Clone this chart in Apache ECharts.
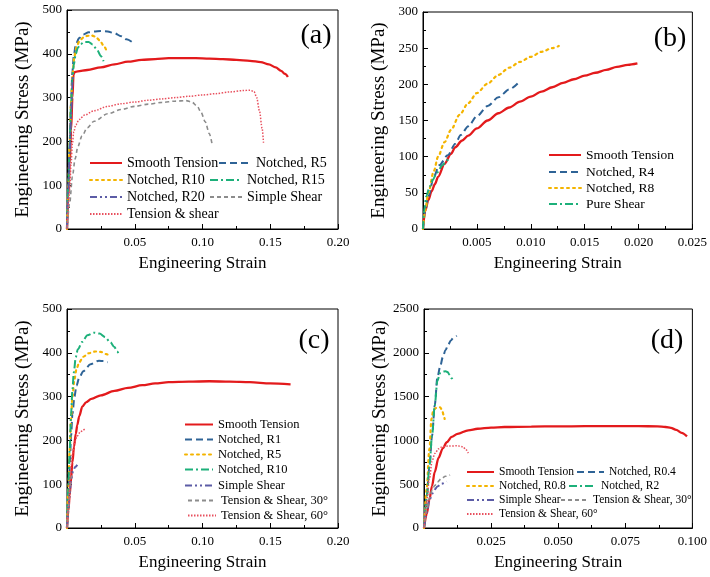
<!DOCTYPE html>
<html>
<head>
<meta charset="utf-8">
<script src="https://cdn.jsdelivr.net/npm/echarts@6/dist/echarts.min.js"></script>
<style>
html, body { margin: 0; padding: 0; background: #fff; }
#main { width: 710px; height: 577px; }
</style>
</head>
<body>
<div id="main"></div>
<script>
var myChart = echarts.init(document.getElementById('main'));
var FONT = '"Liberation Serif", "Times New Roman", serif';

// ---- panel (a) : [strain, stress MPa]
var aSmooth = [[0,0],[0.001,75],[0.002,150],[0.003,225],[0.004,300],[0.0048,352],[0.0055,358],[0.008,360],[0.015,363],[0.025,369],[0.035,376],[0.045,382],[0.055,386],[0.065,388],[0.075,390],[0.085,390],[0.095,390],[0.105,389],[0.115,388],[0.125,386],[0.135,384],[0.143,381],[0.149,376],[0.154,369],[0.158,361],[0.161,354],[0.163,347]];
var aR5 = [[0,0],[0.001,90],[0.002,190],[0.003,290],[0.004,360],[0.005,395],[0.0065,422],[0.009,436],[0.012,444],[0.016,449],[0.02,451],[0.025,452],[0.03,451],[0.035,447],[0.04,440],[0.044,433],[0.048,427]];
var aR10 = [[0,0],[0.001,100],[0.002,200],[0.003,290],[0.004,350],[0.0055,395],[0.007,415],[0.009,428],[0.012,437],[0.015,441],[0.018,442],[0.021,439],[0.024,431],[0.027,419],[0.029,408]];
var aR15 = [[0,0],[0.001,100],[0.002,200],[0.003,285],[0.004,340],[0.005,375],[0.0065,400],[0.008,414],[0.01,422],[0.013,427],[0.016,427],[0.019,421],[0.022,410],[0.025,395],[0.027,383]];
var aR20 = [[0,0],[0.001,90],[0.002,180],[0.003,260],[0.0038,320],[0.0042,350]];
var aShear = [[0,0],[0.002,60],[0.004,120],[0.006,160],[0.008,188],[0.011,212],[0.015,231],[0.02,246],[0.03,263],[0.04,273],[0.05,280],[0.06,285],[0.07,289],[0.08,292],[0.088,293],[0.092,290],[0.096,281],[0.099,266],[0.102,245],[0.105,218],[0.107,195]];
var aTenShear = [[0,0],[0.002,90],[0.003,150],[0.004,195],[0.005,222],[0.0065,238],[0.009,250],[0.013,260],[0.02,270],[0.03,280],[0.04,286],[0.05,290],[0.06,294],[0.07,297],[0.08,300],[0.09,303],[0.1,306],[0.11,309],[0.12,313],[0.13,316],[0.135,317],[0.138,314],[0.14,300],[0.142,270],[0.144,230],[0.145,197]];

// ---- panel (b)
var bSmooth = [[0,0],[0.0002,25],[0.0005,40],[0.0008,52],[0.0011,62],[0.0014,72],[0.002,90],[0.0026,104],[0.003,113],[0.0036,122],[0.0042,129],[0.005,139],[0.006,150],[0.007,160],[0.008,168],[0.009,176],[0.01,183],[0.011,190],[0.012,196],[0.013,202],[0.014,207],[0.015,212],[0.016,216],[0.017,220],[0.018,224],[0.019,227],[0.0199,229]];
var bR4 = [[0,0],[0.0002,25],[0.0005,45],[0.001,72],[0.0015,88],[0.0023,102],[0.003,118],[0.0035,130],[0.0042,142],[0.005,156],[0.006,170],[0.007,182],[0.008,193],[0.0089,203]];
var bR8 = [[0,0],[0.0002,25],[0.0005,50],[0.001,80],[0.0014,100],[0.002,120],[0.0026,137],[0.0034,158],[0.0042,174],[0.005,188],[0.006,201],[0.007,213],[0.008,223],[0.009,231],[0.01,238],[0.011,245],[0.012,250],[0.0126,253]];
var bPure = [[0,0],[0.0001,25],[0.0003,45],[0.0006,58],[0.0009,68],[0.0013,78],[0.0018,88],[0.0022,95],[0.0026,98]];

// ---- panel (c)
var cSmooth = [[0,0],[0.001,40],[0.002,75],[0.0027,102],[0.004,150],[0.0052,186],[0.0065,215],[0.0076,235],[0.009,255],[0.0113,277],[0.014,287],[0.018,295],[0.025,303],[0.035,313],[0.045,320],[0.0556,326],[0.065,330],[0.075,333],[0.09,334],[0.105,335],[0.12,334],[0.135,333],[0.15,330],[0.165,328]];
var cR1 = [[0,0],[0.001,70],[0.002,140],[0.003,210],[0.004,260],[0.0055,300],[0.007,325],[0.009,343],[0.012,358],[0.0174,374],[0.0236,382],[0.027,381],[0.03,378]];
var cR5 = [[0,0],[0.001,90],[0.002,180],[0.003,250],[0.004,300],[0.0055,340],[0.007,363],[0.009,378],[0.012,391],[0.016,399],[0.021,403],[0.025,402],[0.029,397],[0.032,392]];
var cR10 = [[0,0],[0.001,90],[0.002,180],[0.003,260],[0.004,315],[0.005,355],[0.0065,390],[0.008,408],[0.0113,425],[0.015,440],[0.0199,446],[0.024,444],[0.028,436],[0.032,424],[0.035,413],[0.0371,403],[0.038,398]];
var cShear = [[0,0],[0.001,40],[0.002,80],[0.003,110],[0.0045,130],[0.006,139],[0.0076,144]];
var cTS30 = [[0,0],[0.001,45],[0.002,85],[0.003,115],[0.004,128]];
var cTS60 = [[0,0],[0.001,50],[0.002,100],[0.003,140],[0.004,170],[0.0055,195],[0.0075,210],[0.01,220],[0.0138,228]];

// ---- panel (d)
var dSmooth = [[0,0],[0.001,160],[0.002,320],[0.003,480],[0.004,640],[0.0054,800],[0.007,910],[0.0085,980],[0.0103,1040],[0.0125,1075],[0.0165,1115],[0.02,1133],[0.025,1146],[0.03,1153],[0.04,1158],[0.05,1160],[0.06,1162],[0.07,1163],[0.08,1163],[0.087,1160],[0.09,1153],[0.092,1143],[0.094,1120],[0.096,1085],[0.098,1045]];
var dR04 = [[0,0],[0.001,350],[0.002,700],[0.003,1050],[0.004,1400],[0.005,1720],[0.006,1840],[0.007,1950],[0.008,2030],[0.009,2090],[0.01,2140],[0.011,2175],[0.0122,2195]];
var dR08 = [[0,0],[0.001,450],[0.002,900],[0.0028,1250],[0.0035,1350],[0.0045,1370],[0.006,1378],[0.0068,1340],[0.0073,1290],[0.0077,1245]];
var dR2 = [[0,0],[0.001,350],[0.002,700],[0.003,1050],[0.004,1400],[0.005,1680],[0.006,1770],[0.007,1785],[0.008,1790],[0.0088,1780],[0.0095,1750],[0.0103,1710],[0.011,1680]];
var dShear = [[0,0],[0.001,180],[0.002,310],[0.003,390],[0.004,440],[0.005,475],[0.0065,505],[0.0085,530]];
var dTS30 = [[0,0],[0.001,200],[0.002,340],[0.003,430],[0.004,485],[0.005,525],[0.0065,565],[0.008,590],[0.0097,605]];
var dTS60 = [[0,0],[0.001,300],[0.002,560],[0.003,760],[0.004,850],[0.0055,905],[0.0066,925],[0.009,935],[0.0125,938],[0.0145,928],[0.0155,900],[0.0165,855]];

// axis ranges per panel: [xMax, xInterval, xDecimals, yMax, yInterval]
var axisRanges = [
    [0.20, 0.05, 2, 500, 100],
    [0.025, 0.005, 3, 300, 50],
    [0.20, 0.05, 2, 500, 100],
    [0.100, 0.025, 3, 2500, 500]
];
var panelLabels = ['(a)', '(b)', '(c)', '(d)'];

// line looks
var STY = {
    solid:      {color: '#e31a1c', width: 2.3, type: 'solid'},
    dash:       {color: '#2e6396', width: 2, type: [7, 4]},
    dot:        {color: '#f4b400', width: 2.2, type: [2, 4], cap: 'round'},
    dashdot:    {color: '#1db07a', width: 2, type: [8, 3, 2, 3]},
    dashdotdot: {color: '#5c5ca6', width: 2, type: [7, 3, 2, 3, 2, 3]},
    shortdash:  {color: '#8c8c8c', width: 1.6, type: [4, 3]},
    fine:       {color: '#e8505e', width: 1.5, type: [1.5, 1.5]}
};

// [panel, series name, data, look]
var curves = [
    [0, 'a|Smooth Tension', aSmooth, 'solid'],
    [0, 'a|Notched, R5', aR5, 'dash'],
    [0, 'a|Notched, R10', aR10, 'dot'],
    [0, 'a|Notched, R15', aR15, 'dashdot'],
    [0, 'a|Notched, R20', aR20, 'dashdotdot'],
    [0, 'a|Simple Shear', aShear, 'shortdash'],
    [0, 'a|Tension & shear', aTenShear, 'fine'],
    [1, 'b|Smooth Tension', bSmooth, 'solid'],
    [1, 'b|Notched, R4', bR4, 'dash'],
    [1, 'b|Notched, R8', bR8, 'dot'],
    [1, 'b|Pure Shear', bPure, 'dashdot'],
    [2, 'c|Smooth Tension', cSmooth, 'solid'],
    [2, 'c|Notched, R1', cR1, 'dash'],
    [2, 'c|Notched, R5', cR5, 'dot'],
    [2, 'c|Notched, R10', cR10, 'dashdot'],
    [2, 'c|Simple Shear', cShear, 'dashdotdot'],
    [2, 'c|Tension & Shear, 30°', cTS30, 'shortdash'],
    [2, 'c|Tension & Shear, 60°', cTS60, 'fine'],
    [3, 'd|Smooth Tension', dSmooth, 'solid'],
    [3, 'd|Notched, R0.4', dR04, 'dash'],
    [3, 'd|Notched, R0.8', dR08, 'dot'],
    [3, 'd|Notched, R2', dR2, 'dashdot'],
    [3, 'd|Simple Shear', dShear, 'dashdotdot'],
    [3, 'd|Tension & Shear, 30°', dTS30, 'shortdash'],
    [3, 'd|Tension & Shear, 60°', dTS60, 'fine']
];

// legend entries: [series name, left, centre y, font size, icon width]
var legendLayout = [
    ['a|Smooth Tension', 89, 163, 14, 32], ['a|Notched, R5', 218, 163, 14, 32],
    ['a|Notched, R10', 89, 180, 14, 32], ['a|Notched, R15', 209, 180, 14, 32],
    ['a|Notched, R20', 89, 197, 14, 32], ['a|Simple Shear', 209, 197, 14, 32],
    ['a|Tension & shear', 89, 214, 14, 32],
    ['b|Smooth Tension', 548, 155, 13.5, 32], ['b|Notched, R4', 548, 172, 13.5, 32],
    ['b|Notched, R8', 548, 188, 13.5, 32], ['b|Pure Shear', 548, 204, 13.5, 32],
    ['c|Smooth Tension', 184, 425, 12.5, 28], ['c|Notched, R1', 184, 440, 12.5, 28],
    ['c|Notched, R5', 184, 455, 12.5, 28], ['c|Notched, R10', 184, 470, 12.5, 28],
    ['c|Simple Shear', 184, 486, 12.5, 28], ['c|Tension & Shear, 30°', 187, 501, 12.5, 28],
    ['c|Tension & Shear, 60°', 187, 516, 12.5, 28],
    ['d|Smooth Tension', 466, 473, 11.5, 27], ['d|Notched, R0.4', 576, 473, 11.5, 27],
    ['d|Notched, R0.8', 466, 487, 11.5, 27], ['d|Notched, R2', 568, 487, 11.5, 27],
    ['d|Simple Shear', 466, 501, 11.5, 27], ['d|Tension & Shear, 30°', 560, 501, 11.5, 27],
    ['d|Tension & Shear, 60°', 466, 515, 11.5, 27]
];

var grids = [
    {left: 67, top: 10, width: 271, height: 219},
    {left: 423, top: 12, width: 271, height: 217},
    {left: 67, top: 309, width: 271, height: 219},
    {left: 424, top: 309, width: 270, height: 219}
];
var labelPos = [[316, 36], [670, 39], [314, 341], [667, 341]];

var xAxes = [], yAxes = [];
axisRanges.forEach(function (r, i) {
    xAxes.push({
        type: 'value', gridIndex: i, min: 0, max: r[0], interval: r[1],
        name: 'Engineering Strain', nameLocation: 'middle', nameGap: 26,
        nameTextStyle: {fontFamily: FONT, fontSize: 17, color: '#000'},
        axisLine: {onZero: false, lineStyle: {color: '#000', width: 1}},
        axisTick: {inside: true, length: 5, lineStyle: {color: '#000'}},
        minorTick: {show: true, splitNumber: 2, length: 3, lineStyle: {color: '#000'}},
        splitLine: {show: false},
        axisLabel: {
            fontFamily: FONT, fontSize: 13, color: '#000', margin: 7,
            formatter: function (v) { return v === 0 ? '' : v.toFixed(r[2]); }
        }
    });
    yAxes.push({
        type: 'value', gridIndex: i, min: 0, max: r[3], interval: r[4],
        name: 'Engineering Stress (MPa)', nameLocation: 'middle', nameGap: 34,
        nameTextStyle: {fontFamily: FONT, fontSize: 19, color: '#000'},
        axisLine: {onZero: false, lineStyle: {color: '#000', width: 1}},
        axisTick: {inside: true, length: 5, lineStyle: {color: '#000'}},
        minorTick: {show: true, splitNumber: 2, length: 3, lineStyle: {color: '#000'}},
        splitLine: {show: false},
        axisLabel: {
            fontFamily: FONT, fontSize: 13, color: '#000', margin: 5,
            formatter: function (v) { return String(Math.round(v)); }
        }
    });
});

var series = curves.map(function (c) {
    var s = STY[c[3]];
    return {
        name: c[1], type: 'line', xAxisIndex: c[0], yAxisIndex: c[0],
        data: c[2], symbol: 'none', showSymbol: false,
        smooth: 0.3, smoothMonotone: 'x',
        lineStyle: {color: s.color, width: s.width, type: s.type, cap: s.cap || 'butt'},
        itemStyle: {color: s.color},
        animation: false
    };
});

var legends = legendLayout.map(function (l) {
    return {
        data: [l[0]], left: l[1], top: l[2] - 7, orient: 'vertical',
        itemWidth: l[4], itemHeight: 14, padding: 0, itemGap: 0,
        selectedMode: false,
        itemStyle: {opacity: 0, color: 'transparent', borderWidth: 0},
        textStyle: {fontFamily: FONT, fontSize: l[3], color: '#000'},
        formatter: function (n) { return n.split('|')[1]; }
    };
});

var graphics = panelLabels.map(function (t, i) {
    return {
        type: 'text', x: labelPos[i][0], y: labelPos[i][1],
        style: {text: t, font: '28px ' + FONT, fill: '#000', align: 'center', verticalAlign: 'middle'}
    };
});

option = {
    backgroundColor: '#fff',
    animation: false,
    grid: grids.map(function (g) {
        return Object.assign({show: true, borderColor: '#000', borderWidth: 1, containLabel: false}, g);
    }),
    xAxis: xAxes,
    yAxis: yAxes,
    legend: legends,
    graphic: graphics,
    series: series
};
myChart.setOption(option);
</script>
</body>
</html>
